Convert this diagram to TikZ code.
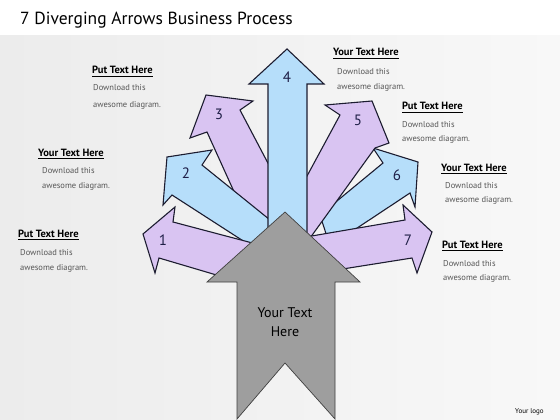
\documentclass[tikz,border=0pt]{standalone}
\usepackage{fontspec}
\setmainfont{PT Sans}
\definecolor{purpc}{RGB}{217,196,242}
\definecolor{bluec}{RGB}{182,222,250}
\definecolor{grayc}{RGB}{158,158,158}
\definecolor{linec}{RGB}{28,28,48}
\definecolor{numc}{RGB}{30,30,70}
\definecolor{bodyc}{RGB}{85,85,85}
\definecolor{bgl}{RGB}{236,236,236}
\definecolor{bgr}{RGB}{248,248,248}
\begin{document}
\begin{tikzpicture}[x=1pt,y=-1pt,
  arr/.style={draw=linec, line width=1.1pt, line join=miter},
  purp/.style={arr, fill=purpc},
  blu/.style={arr, fill=bluec},
  num/.style={font=\fontsize{15}{15}\selectfont, text=numc, inner sep=0pt},
  head/.style={font=\bfseries\fontsize{10.5}{12}\selectfont, anchor=base west, inner sep=0pt},
  body/.style={font=\fontsize{8.5}{10}\selectfont, text=bodyc, anchor=base west, inner sep=0pt},
  uline/.style={draw=black, line width=0.6pt}
]
% background
\useasboundingbox (0,0) rectangle (560,420);
\fill[white] (0,0) rectangle (560,36);
\shade[left color=bgl, right color=bgr] (0,36) rectangle (560,420);

% title
\node[anchor=base west, inner sep=0pt, font=\fontsize{17.5}{20}\selectfont] (title) at (20,25) {7 Diverging Arrows Business Process};

% arrows (back to front)
% arrow 3
\path[purp] (206,95) -- (253,101) -- (240,110) -- (280,186) -- (285,240) -- (250,227) -- (207,132) -- (190,138) -- cycle;
% arrow 2
\path[blu] (167,157) -- (212,150) -- (202,165) -- (280,228) -- (265,255) -- (172,195) -- (163,205) -- cycle;
% arrow 1
\path[purp] (143,234) -- (175,207) -- (173,222) -- (260,245) -- (230,279) -- (159,258) -- (155,273) -- cycle;
% arrow 6
\path[blu] (418,162) -- (373,148) -- (383,163) -- (320,215) -- (330,246) -- (410,193) -- (415,207) -- cycle;
% arrow 5
\path[purp] (372,101) -- (325,105) -- (340,115) -- (300,189) -- (305,245) -- (375,148) -- (389,143) -- cycle;
% arrow 7
\path[purp] (432,232) -- (403,205) -- (405,220) -- (300,238) -- (330,271) -- (412,258) -- (417,273) -- cycle;
% arrow 4
\path[blu] (287,49) -- (324,84) -- (307,84) -- (307,250) -- (268,250) -- (268,84) -- (249,84) -- cycle;
% gray main arrow
\path[fill=grayc, draw=black!75, line width=0.7pt, line join=miter]
  (285,212) -- (360,282) -- (335,282) -- (335,419) -- (285,363) -- (237,419) -- (237,282) -- (207,282) -- cycle;

% numbers
\node[num] (n1) at (163,240) {1};
\node[num] (n2) at (186,173) {2};
\node[num] (n3) at (219,114) {3};
\node[num] (n4) at (287,77) {4};
\node[num] (n5) at (358,120) {5};
\node[num] (n6) at (397,175) {6};
\node[num] (n7) at (408,240) {7};

% center text
\node[font=\fontsize{14}{16}\selectfont, align=center, inner sep=0pt] (ctr) at (285,322) {Your Text\\[3pt]Here};

% text blocks left
\node[head] (hA) at (92,74) {Put Text Here};
\draw[uline] ([yshift=-2.5pt]hA.base west) -- ([yshift=-2.5pt]hA.base east);
\node[body] (bA1) at (93,91) {Download this};
\node[body] (bA2) at (93,107) {awesome diagram.};

\node[head] (hB) at (38,156) {Your Text Here};
\draw[uline] ([yshift=-2.5pt]hB.base west) -- ([yshift=-2.5pt]hB.base east);
\node[body] (bB1) at (42,173) {Download this};
\node[body] (bB2) at (42,188) {awesome diagram.};

\node[head] (hC) at (18,237) {Put Text Here};
\draw[uline] ([yshift=-2.5pt]hC.base west) -- ([yshift=-2.5pt]hC.base east);
\node[body] (bC1) at (20,255) {Download this};
\node[body] (bC2) at (20,270) {awesome diagram.};

% text blocks right
\node[head] (hD) at (333,56) {Your Text Here};
\draw[uline] ([yshift=-2.5pt]hD.base west) -- ([yshift=-2.5pt]hD.base east);
\node[body] (bD1) at (337,75) {Download this};
\node[body] (bD2) at (337,89) {awesome diagram.};

\node[head] (hE) at (402,110) {Put Text Here};
\draw[uline] ([yshift=-2.5pt]hE.base west) -- ([yshift=-2.5pt]hE.base east);
\node[body] (bE1) at (402,128) {Download this};
\node[body] (bE2) at (402,142) {awesome diagram.};

\node[head] (hF) at (441,171) {Your Text Here};
\draw[uline] ([yshift=-2.5pt]hF.base west) -- ([yshift=-2.5pt]hF.base east);
\node[body] (bF1) at (445,188) {Download this};
\node[body] (bF2) at (445,202) {awesome diagram.};

\node[head] (hG) at (442,248) {Put Text Here};
\draw[uline] ([yshift=-2.5pt]hG.base west) -- ([yshift=-2.5pt]hG.base east);
\node[body] (bG1) at (443,266) {Download this};
\node[body] (bG2) at (443,280) {awesome diagram.};

% logo
\node[anchor=base west, inner sep=0pt, font=\fontsize{7}{8}\selectfont] (logo) at (515,413) {Your logo};
\end{tikzpicture}
\end{document}
